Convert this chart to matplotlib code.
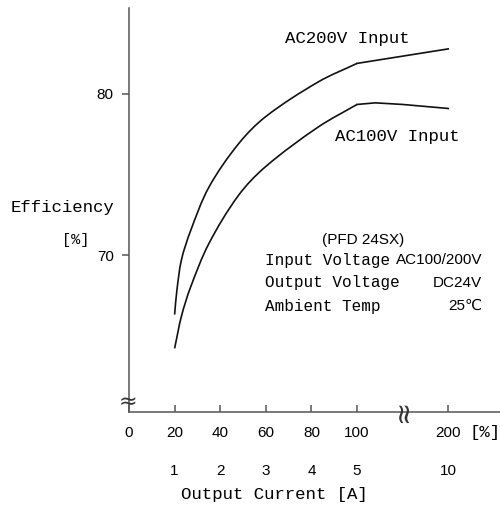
import numpy as np
import matplotlib.pyplot as plt
from matplotlib.path import Path
from matplotlib.patches import PathPatch

# output load [%] vs efficiency [%]
load_200v = [20, 21, 23, 27, 35, 48, 60, 83, 100, 150, 200]
eff_200v = [66.3, 67.8, 69.7, 71.5, 74.2, 76.9, 78.6, 80.75, 81.9, 82.35, 82.8]
load_100v = [20, 23, 27, 35, 48, 60, 83, 100, 120, 150, 200]
eff_100v = [64.2, 66.2, 68.0, 70.7, 73.7, 75.5, 77.95, 79.35, 79.45, 79.35, 79.1]

load_ticks = [0, 20, 40, 60, 80, 100, 200]
current_ticks = [1, 2, 3, 4, 5, 10]
current_loads = [20, 40, 60, 80, 100, 200]
eff_ticks = [70, 80]

GOTHIC = ['Liberation Mono', 'DejaVu Sans Mono']
NARROW = ['Liberation Sans Narrow', 'Liberation Sans', 'DejaVu Sans']


def to_pos(p):
    # broken x axis: above 100 % the scale is compressed
    p = np.asarray(p, dtype=float)
    return np.where(p <= 100, p, 100 + (p - 100) * 0.4)


W, H = 500, 508
fig = plt.figure(figsize=(W / 100, H / 100), dpi=100)
ax = fig.add_axes([129 / W, 1 - 412 / H, (W - 129) / W, (412 - 8) / H])
XMAX, YMIN, YMAX = 162.7, 60.25, 85.34
SX = (W - 129) / XMAX          # px per x unit
SY = (412 - 8) / (YMAX - YMIN)  # px per y unit


def px(x, y):
    return x / W, 1 - y / H


def smooth_curve(xs, ys, **kw):
    # draw the read points joined by a smooth bezier (chord length tangents)
    p = np.column_stack([to_pos(xs) * SX, np.asarray(ys) * SY])
    n = len(p)
    d = np.linalg.norm(np.diff(p, axis=0), axis=1)
    m = np.zeros_like(p)
    m[0] = (p[1] - p[0]) / d[0]
    m[-1] = (p[-1] - p[-2]) / d[-1]
    for i in range(1, n - 1):
        m[i] = (p[i + 1] - p[i - 1]) / (d[i - 1] + d[i])
    verts = [p[0]]
    codes = [Path.MOVETO]
    for i in range(n - 1):
        verts += [p[i] + m[i] * d[i] / 3, p[i + 1] - m[i + 1] * d[i] / 3, p[i + 1]]
        codes += [Path.CURVE4] * 3
    verts = np.array(verts) / [SX, SY]
    ax.add_patch(PathPatch(Path(verts, codes), fill=False, capstyle='butt', **kw))


for xs, ys in [(load_200v, eff_200v), (load_100v, eff_100v)]:
    xs = np.array(xs)
    ys = np.array(ys)
    lo = xs <= 100
    hi = xs >= 100
    smooth_curve(xs[lo], ys[lo], edgecolor='#111111', lw=1.2)
    ax.plot(to_pos(xs[hi]), ys[hi], color='#111111', lw=1.2)

ax.set_xlim(0, XMAX)
ax.set_ylim(YMIN, YMAX)

for s in ['top', 'right']:
    ax.spines[s].set_visible(False)
for s in ['left', 'bottom']:
    ax.spines[s].set_color('#555555')
    ax.spines[s].set_linewidth(1.1)

ax.set_xticks(to_pos(load_ticks))
ax.set_xticklabels([str(v) for v in load_ticks], family=NARROW, fontsize=11)
ax.tick_params(axis='x', direction='in', length=5, width=1.1, color='#555555', pad=10)
ax.set_yticks(eff_ticks)
ax.set_yticklabels([str(v) for v in eff_ticks], family=NARROW, fontsize=11)
ax.tick_params(axis='y', direction='out', length=5, width=1.1, color='#555555', pad=6)

# second row of x labels: output current
row_y = (412 - 471) / (412 - 8)
for c, l in zip(current_ticks, current_loads):
    ax.text(float(to_pos(l)), row_y, str(c), transform=ax.get_xaxis_transform(),
            ha='center', va='center', family=NARROW, fontsize=11)

fig.text(*px(485, 433), '[%]', ha='center', va='center', family=GOTHIC, fontsize=12.5)
fig.text(*px(274, 495), 'Output Current [A]', ha='center', va='center', family=GOTHIC, fontsize=12.5)
fig.text(*px(62, 208), 'Efficiency', ha='center', va='center', family=GOTHIC, fontsize=12.5)
fig.text(*px(76, 240), '[%]', ha='center', va='center', family=GOTHIC, fontsize=11)

fig.text(*px(285, 39), 'AC200V Input', ha='left', va='center', family=GOTHIC, fontsize=12.5)
fig.text(*px(335, 137), 'AC100V Input', ha='left', va='center', family=GOTHIC, fontsize=12.5)

fig.text(*px(363, 240), '(PFD 24SX)', ha='center', va='center', family=NARROW, fontsize=11)
rows = [('Input Voltage', 'AC100/200V', 260), ('Output Voltage', 'DC24V', 283),
        ('Ambient Temp', '25℃', 306)]
for left, right, y in rows:
    fig.text(*px(265, y), left, ha='left', va='center', family=GOTHIC, fontsize=11.5)
    fig.text(*px(482, y), right, ha='right', va='center', family=NARROW, fontsize=11)

# axis break marks
fig.text(*px(128, 402), '≈', ha='center', va='center', fontsize=16, color='#333333')
fig.text(*px(403, 411), '≈', ha='center', va='center', fontsize=20, color='#333333', rotation=90)

fig.savefig('out.png', dpi=100)
